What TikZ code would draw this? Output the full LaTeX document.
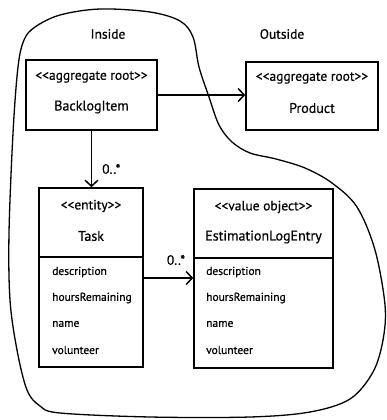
\documentclass[tikz,border=0pt]{standalone}
\usepackage{fontspec}
\setmainfont{PT Sans}[Ligatures=NoCommon,FakeBold=0.6]
\usetikzlibrary{arrows.meta}
\newcommand{\lt}{\char"003C\relax}
\newcommand{\gt}{\char"003E\relax}
\begin{document}
\begin{tikzpicture}[x=1pt,y=-1pt,
  box/.style={draw,line width=1.6pt,rectangle,inner sep=0pt},
  stereo/.style={font=\fontsize{13.5}{14}\selectfont,inner sep=0pt},
  cname/.style={font=\fontsize{14}{16}\selectfont,inner sep=0pt},
  attr/.style={font=\fontsize{11.5}{12}\selectfont,anchor=west,inner sep=0pt},
  lbl/.style={font=\fontsize{13.5}{14}\selectfont,inner sep=0pt},
  conn/.style={line width=1.5pt,-{Straight Barb[length=6pt,width=13pt,line width=1.5pt]}},
  divider/.style={line width=1.6pt},
  blob/.style={line width=1.3pt}]
\useasboundingbox (0,0) rectangle (386,420);
% aggregate boundary
\draw[blob] plot[smooth cycle, tension=0.55] coordinates {
  (60,15) (100,9) (150,12) (180,21) (193,37) (199,67) (209,97) (219,125)
  (232,142) (250,153) (276,159) (305,168) (332,183) (357,207) (375,250)
  (385,305) (383,340) (373,372) (350,399) (310,412) (250,417) (150,417)
  (60,413) (40,406) (27,390) (17,350) (10,300) (9,233) (13,133) (18,67)
  (24,40) (35,27)};
\node[lbl] (inside) at (108,34) {Inside};
\node[lbl] (outside) at (282,34) {Outside};
% BacklogItem
\node[box,minimum width=131pt,minimum height=70pt] (bi) at (91.5,95) {};
\node[stereo] (bis) at (91.5,77) {\lt\lt aggregate root\gt\gt};
\node[cname] (bin) at (91.5,107) {BacklogItem};
% Product
\node[box,minimum width=132pt,minimum height=68pt] (prod) at (312,96) {};
\node[stereo] (prods) at (312,78) {\lt\lt aggregate root\gt\gt};
\node[cname] (prodn) at (312,108) {Product};
% Task
\node[box,minimum width=104pt,minimum height=179pt] (task) at (91,277.5) {};
\coordinate (tdiv) at (0,257);
\draw[divider] (task.west |- tdiv) -- (task.east |- tdiv);
\node[stereo] (tasks) at (91,206) {\lt\lt entity\gt\gt};
\node[cname] (taskn) at (91,236) {Task};
\node[attr] (ta1) at (52,272) {description};
\node[attr] (ta2) at (52,298) {hoursRemaining};
\node[attr] (ta3) at (52,324) {name};
\node[attr] (ta4) at (52,350) {volunteer};
% EstimationLogEntry
\node[box,minimum width=139pt,minimum height=179pt] (ele) at (263.5,278.5) {};
\coordinate (ediv) at (0,258);
\draw[divider] (ele.west |- ediv) -- (ele.east |- ediv);
\node[stereo] (eles) at (263.5,207) {\lt\lt value object\gt\gt};
\node[cname] (elen) at (263.5,237) {EstimationLogEntry};
\node[attr] (ea1) at (206,272) {description};
\node[attr] (ea2) at (206,298) {hoursRemaining};
\node[attr] (ea3) at (206,324) {name};
\node[attr] (ea4) at (206,350) {volunteer};
% connectors
\draw[conn] (bi.east) -- (bi.east -| prod.west);
\draw[conn] (bi.south) -- (bi.south |- task.north);
\node[lbl,anchor=west] (m1) at (102,169) {0..*};
\coordinate (hy) at (0,278);
\draw[conn] (task.east |- hy) -- (ele.west |- hy);
\node[lbl] (m2) at (176,260) {0..*};
\end{tikzpicture}
\end{document}
